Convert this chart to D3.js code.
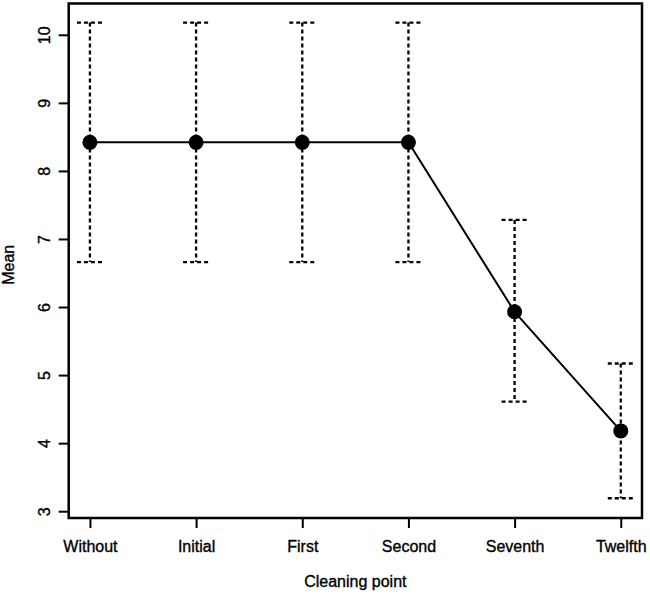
<!DOCTYPE html>
<html>
<head>
<meta charset="utf-8">
<script src="https://cdn.jsdelivr.net/npm/d3@7"></script>
<style>
  html, body { margin: 0; padding: 0; background: #fff; }
  svg { display: block; }
  text { font-family: "Liberation Sans", Arial, Helvetica, sans-serif; fill: #000; stroke: #000; stroke-width: 0.35px; }
</style>
</head>
<body>
<svg id="chart" width="650" height="597"></svg>
<script>
const categories = ["Without", "Initial", "First", "Second", "Seventh", "Twelfth"];
const means = [8.42, 8.42, 8.42, 8.42, 5.93, 4.18];
const upper = [10.18, 10.18, 10.18, 10.18, 7.28, 5.17];
const lower = [6.66, 6.66, 6.66, 6.66, 4.61, 3.19];
const yTicks = [3, 4, 5, 6, 7, 8, 9, 10];
const xTitle = "Cleaning point";
const yTitle = "Mean";

const svg = d3.select("#chart");
const pLeft = 68.7, pRight = 642, pTop = 3.5, pBottom = 518;

const x = d3.scaleLinear().domain([0.8, 6.2]).range([pLeft, pRight]);
const y = d3.scaleLinear().domain([2.9, 10.46]).range([pBottom, pTop]);

const data = categories.map((c, i) => ({ c, i: i + 1, m: means[i], hi: upper[i], lo: lower[i] }));

// error bars (dashed)
const eb = svg.append("g").attr("stroke", "#000").attr("stroke-width", 2.3)
  .attr("stroke-dasharray", "4,3").attr("fill", "none");
data.forEach(d => {
  eb.append("line").attr("x1", x(d.i)).attr("x2", x(d.i)).attr("y1", y(d.hi)).attr("y2", y(d.lo));
  eb.append("line").attr("x1", x(d.i) - 13).attr("x2", x(d.i) + 13).attr("y1", y(d.hi)).attr("y2", y(d.hi));
  eb.append("line").attr("x1", x(d.i) - 13).attr("x2", x(d.i) + 13).attr("y1", y(d.lo)).attr("y2", y(d.lo));
});

// line
svg.append("path").datum(data)
  .attr("fill", "none").attr("stroke", "#000").attr("stroke-width", 2)
  .attr("d", d3.line().x(d => x(d.i)).y(d => y(d.m)));

// points
svg.append("g").selectAll("circle").data(data).join("circle")
  .attr("cx", d => x(d.i)).attr("cy", d => y(d.m)).attr("r", 7.5).attr("fill", "#000");

// box
svg.append("rect").attr("x", pLeft).attr("y", pTop).attr("width", pRight - pLeft).attr("height", pBottom - pTop)
  .attr("fill", "none").attr("stroke", "#000").attr("stroke-width", 2.5);

// y axis
const yAxis = d3.axisLeft(y).tickValues(yTicks).tickSize(10).tickFormat(d3.format("d"));
const gy = svg.append("g").attr("transform", `translate(${pLeft},0)`).call(yAxis);
gy.select(".domain").remove();
gy.selectAll(".tick line").attr("stroke", "#000").attr("stroke-width", 2);
gy.selectAll(".tick text").attr("x", null).attr("dy", null)
  .attr("transform", "translate(-19,0) rotate(-90)")
  .attr("text-anchor", "middle").attr("font-size", 16).style("font-family", "'Liberation Sans', Arial, sans-serif");

// x axis
const xAxis = d3.axisBottom(x).tickValues(data.map(d => d.i)).tickSize(10).tickFormat(i => categories[i - 1]);
const gx = svg.append("g").attr("transform", `translate(0,${pBottom})`).call(xAxis);
gx.select(".domain").remove();
gx.selectAll(".tick line").attr("stroke", "#000").attr("stroke-width", 2);
gx.selectAll(".tick text").attr("y", 34).attr("dy", null)
  .attr("font-size", 16).style("font-family", "'Liberation Sans', Arial, sans-serif");

// titles
svg.append("text").attr("x", (pLeft + pRight) / 2).attr("y", 587).attr("text-anchor", "middle")
  .attr("font-size", 16).text(xTitle);
svg.append("text").attr("transform", `translate(14,${(pTop + pBottom) / 2 + 4}) rotate(-90)`)
  .attr("text-anchor", "middle").attr("font-size", 16).text(yTitle);
</script>
</body>
</html>
